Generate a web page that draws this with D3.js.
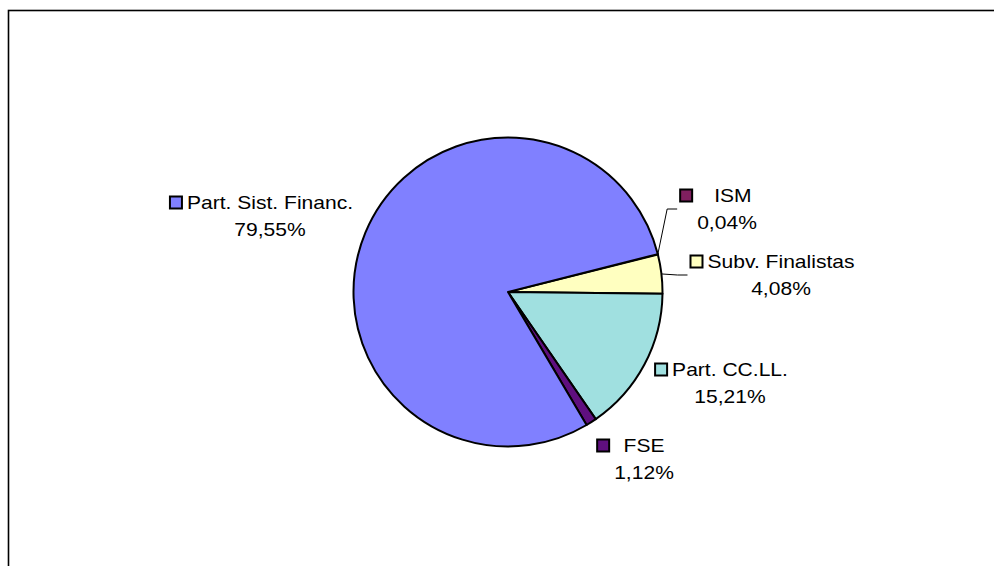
<!DOCTYPE html>
<html>
<head>
<meta charset="utf-8">
<script src="https://cdn.jsdelivr.net/npm/d3@7"></script>
<style>
  body { margin: 0; background: #fff; }
  text { font-family: "Liberation Sans", Arial, sans-serif; font-size: 18px; fill: #000; white-space: pre; }
</style>
</head>
<body>
<svg id="chart" width="994" height="566"></svg>
<script>
// data (clockwise from the ISM slice)
var categories = ["\u00a0\u00a0ISM", "Subv. Finalistas", "Part. CC.LL.", "FSE", "Part. Sist. Financ."];
var values = [0.04, 4.08, 15.21, 1.12, 79.55];
var valueLabels = ["0,04%", "4,08%", "15,21%", "1,12%", "79,55%"];
var colors = ["#7f1f5f", "#ffffc0", "#a0e0e0", "#5f0f7f", "#8080ff"];

// layout: label text-centre / first baseline relative to pie centre, and leader flag
var labelOffsets = [[219, -90], [273, -24], [222, 84], [136, 160], [-238, -83]];
var hasLeader = [true, true, false, false, false];

var svg = d3.select("#chart");
var cx = 508, cy = 292, radius = 154.5;
var stretch = 1.17; // the labels are drawn a bit wider than normal
var keySize = 12;

// chart area border (runs off the right and bottom)
svg.append("rect")
    .attr("x", 8.5).attr("y", 10.5)
    .attr("width", 1100).attr("height", 700)
    .attr("fill", "none").attr("stroke", "#000").attr("stroke-width", 1.6);

var data = categories.map(function (c, i) {
    return { name: c, value: values[i], label: valueLabels[i], color: colors[i], i: i };
});

var startAngle = 75.8 * Math.PI / 180;
var pie = d3.pie().sort(null).value(function (d) { return d.value; })
    .startAngle(startAngle).endAngle(startAngle + 2 * Math.PI);
var arc = d3.arc().innerRadius(0).outerRadius(radius);
var edgeArc = d3.arc().innerRadius(radius).outerRadius(radius);

var g = svg.append("g").attr("transform", "translate(" + cx + "," + cy + ")");
var arcs = pie(data);

g.selectAll("path.slice")
    .data(arcs)
    .enter().append("path")
    .attr("class", "slice")
    .attr("d", arc)
    .attr("fill", function (d) { return d.data.color; })
    .attr("stroke", "#000")
    .attr("stroke-width", 2)
    .attr("stroke-linejoin", "round");

// labels
arcs.forEach(function (d) {
    var i = d.data.i;
    var lx = labelOffsets[i][0], ly = labelOffsets[i][1];
    var lg = g.append("g");

    var t1 = lg.append("text")
        .attr("text-anchor", "middle")
        .attr("transform", "translate(" + lx + "," + ly + ") scale(" + stretch + ",1)")
        .text(d.data.name);
    var t2 = lg.append("text")
        .attr("text-anchor", "middle")
        .attr("transform", "translate(" + lx + "," + (ly + 27) + ") scale(" + stretch + ",1)")
        .text(d.data.label);

    var w = Math.max(t1.node().getComputedTextLength(), t2.node().getComputedTextLength()) * stretch;
    var keyX = lx - w / 2 - 5 - keySize;
    lg.append("rect")
        .attr("x", keyX).attr("y", ly - 12.5)
        .attr("width", keySize).attr("height", keySize)
        .attr("fill", d.data.color)
        .attr("stroke", "#000").attr("stroke-width", 2);

    if (hasLeader[i]) {
        var p = edgeArc.centroid(d);
        var ex = keyX - 3, ey = ly + 7;
        var pts = [p, [Math.max(p[0], ex - 10), ey], [ex, ey]];
        lg.append("path")
            .attr("d", d3.line()(pts))
            .attr("fill", "none").attr("stroke", "#000").attr("stroke-width", 1);
    }
});
</script>
</body>
</html>
